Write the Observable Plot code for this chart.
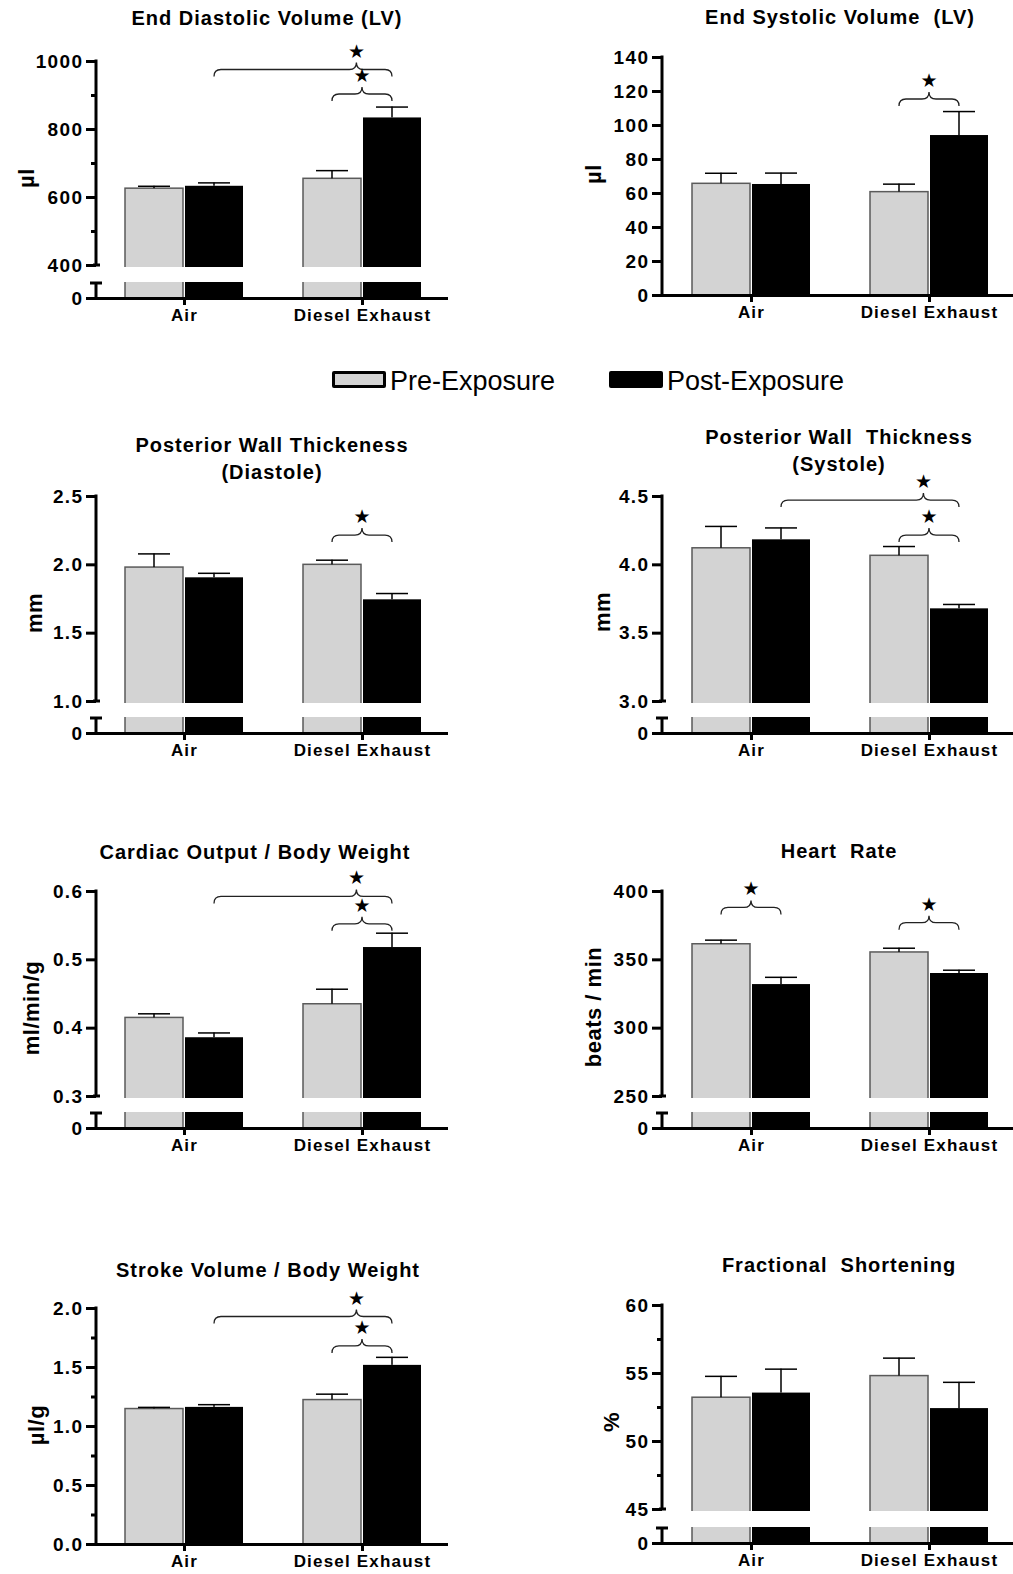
<!DOCTYPE html>
<html>
<head>
<meta charset="utf-8">
<script src="https://cdn.jsdelivr.net/npm/d3@7"></script>
<script src="https://cdn.jsdelivr.net/npm/@observablehq/plot@0.6"></script>
<style>
  html, body { margin: 0; padding: 0; background: #fff; }
  #fig { position: relative; width: 1013px; height: 1574px; overflow: hidden; background: #fff;
         font-family: "Liberation Sans", Arial, sans-serif; color: #000; }
  .panel { position: absolute; }
  .panel svg { max-width: none; overflow: visible; }
  .title { position: absolute; transform: translate(-50%, -50%); white-space: pre; font-weight: bold;
           font-size: 20px; letter-spacing: 1px; line-height: 1; text-align: center; }
  .ylab { position: absolute; transform: translate(-50%, -50%) rotate(-90deg); white-space: pre;
          font-weight: bold; font-size: 22px; letter-spacing: 0.5px; line-height: 1; }
  .leg-sw { position: absolute; box-sizing: border-box; width: 54px; height: 17px; border-radius: 2px; }
  .leg-tx { position: absolute; transform: translateY(-50%); font-size: 27px; line-height: 1; white-space: pre; }
  g[aria-label="y-axis tick label"] text { letter-spacing: 1.4px; }
  g[aria-label="x-axis tick label"] text { letter-spacing: 1.2px; }
</style>
</head>
<body>
<div id="fig"></div>
<script>
// ---------------- data ----------------
const groups = ["Air", "Diesel Exhaust"];
const phases = ["Pre-Exposure", "Post-Exposure"];
// bar order in every panel: Air/Pre, Air/Post, Diesel/Pre, Diesel/Post
const barGroup = ["Air", "Air", "Diesel Exhaust", "Diesel Exhaust"];
const barPhase = ["Pre-Exposure", "Post-Exposure", "Pre-Exposure", "Post-Exposure"];

// End Diastolic Volume (LV)
const edvTitle = ["End Diastolic Volume (LV)"];
const edvUnit = "µl";
const edvMean = [626, 633, 655, 834];
const edvSem = [7, 10, 24, 32];
const edvDomain = [0, 400, 1000];
const edvTicks = [0, 400, 600, 800, 1000];
const edvTickLabels = ["0", "400", "600", "800", "1000"];
const edvMinor = [500, 700, 900];
const edvBraces = [[1, 3, 975], [2, 3, 903]];

// End Systolic Volume (LV)
const esvTitle = ["End Systolic Volume  (LV)"];
const esvUnit = "µl";
const esvMean = [65.7, 65.3, 60.8, 94.1];
const esvSem = [6.2, 6.7, 4.7, 14.1];
const esvDomain = [0, 140];
const esvTicks = [0, 20, 40, 60, 80, 100, 120, 140];
const esvTickLabels = ["0", "20", "40", "60", "80", "100", "120", "140"];
const esvMinor = [];
const esvBraces = [[2, 3, 115.3]];

// Posterior Wall Thickeness (Diastole)
const pwdTitle = ["Posterior Wall Thickeness", "(Diastole)"];
const pwdUnit = "mm";
const pwdMean = [1.98, 1.905, 2.0, 1.744];
const pwdSem = [0.10, 0.033, 0.034, 0.046];
const pwdDomain = [0, 1.0, 2.5];
const pwdTicks = [0, 1.0, 1.5, 2.0, 2.5];
const pwdTickLabels = ["0", "1.0", "1.5", "2.0", "2.5"];
const pwdMinor = [];
const pwdBraces = [[2, 3, 2.214]];

// Posterior Wall Thickness (Systole)
const pwsTitle = ["Posterior Wall  Thickness", "(Systole)"];
const pwsUnit = "mm";
const pwsMean = [4.121, 4.183, 4.066, 3.678];
const pwsSem = [0.16, 0.087, 0.068, 0.032];
const pwsDomain = [0, 3.0, 4.5];
const pwsTicks = [0, 3.0, 3.5, 4.0, 4.5];
const pwsTickLabels = ["0", "3.0", "3.5", "4.0", "4.5"];
const pwsMinor = [];
const pwsBraces = [[1, 3, 4.47], [2, 3, 4.214]];

// Cardiac Output / Body Weight
const coTitle = ["Cardiac Output / Body Weight"];
const coUnit = "ml/min/g";
const coMean = [0.415, 0.386, 0.435, 0.518];
const coSem = [0.006, 0.007, 0.022, 0.021];
const coDomain = [0, 0.3, 0.6];
const coTicks = [0, 0.3, 0.4, 0.5, 0.6];
const coTickLabels = ["0", "0.3", "0.4", "0.5", "0.6"];
const coMinor = [];
const coBraces = [[1, 3, 0.592], [2, 3, 0.552]];

// Heart Rate
const hrTitle = ["Heart  Rate"];
const hrUnit = "beats / min";
const hrMean = [361.4, 331.9, 355.4, 340.0];
const hrSem = [3.0, 5.3, 3.1, 2.4];
const hrDomain = [0, 250, 400];
const hrTicks = [0, 250, 300, 350, 400];
const hrTickLabels = ["0", "250", "300", "350", "400"];
const hrMinor = [];
const hrBraces = [[0, 1, 388], [2, 3, 376.8]];

// Stroke Volume / Body Weight
const svTitle = ["Stroke Volume / Body Weight"];
const svUnit = "µl/g";
const svMean = [1.148, 1.162, 1.224, 1.518];
const svSem = [0.014, 0.023, 0.05, 0.068];
const svDomain = [0, 2.0];
const svTicks = [0, 0.5, 1.0, 1.5, 2.0];
const svTickLabels = ["0.0", "0.5", "1.0", "1.5", "2.0"];
const svMinor = [0.25, 0.75, 1.25, 1.75];
const svBraces = [[1, 3, 1.928], [2, 3, 1.679]];

// Fractional Shortening
const fsTitle = ["Fractional  Shortening"];
const fsUnit = "%";
const fsMean = [53.22, 53.56, 54.81, 52.42];
const fsSem = [1.57, 1.76, 1.32, 1.93];
const fsDomain = [0, 45, 60];
const fsTicks = [0, 45, 50, 55, 60];
const fsTickLabels = ["0", "45", "50", "55", "60"];
const fsMinor = [47.5, 52.5, 57.5];
const fsBraces = [];

// ---------------- layout (page pixels) ----------------
const SIDES = {
  L: {svgLeft: 0, width: 455, axisX: 96, xEnd: 448, airX: 184, deX: 362},
  R: {svgLeft: 505, width: 508, axisX: 662, xEnd: 1013, airX: 751, deX: 929}
};
const panels = [
  {title: edvTitle, unit: edvUnit, mean: edvMean, sem: edvSem, domain: edvDomain, ticks: edvTicks, labels: edvTickLabels, minor: edvMinor, braces: edvBraces,
   side: "L", yTop: 61, yLow: 265, y0: 298, titleX: 267, titleY: 18, unitX: 27, unitY: 178},
  {title: esvTitle, unit: esvUnit, mean: esvMean, sem: esvSem, domain: esvDomain, ticks: esvTicks, labels: esvTickLabels, minor: esvMinor, braces: esvBraces,
   side: "R", yTop: 57, y0: 295, titleX: 840, titleY: 17, unitX: 594, unitY: 174},
  {title: pwdTitle, unit: pwdUnit, mean: pwdMean, sem: pwdSem, domain: pwdDomain, ticks: pwdTicks, labels: pwdTickLabels, minor: pwdMinor, braces: pwdBraces,
   side: "L", yTop: 496, yLow: 701, y0: 733, titleX: 272, titleY: 445, unitX: 35, unitY: 613},
  {title: pwsTitle, unit: pwsUnit, mean: pwsMean, sem: pwsSem, domain: pwsDomain, ticks: pwsTicks, labels: pwsTickLabels, minor: pwsMinor, braces: pwsBraces,
   side: "R", yTop: 496, yLow: 701, y0: 733, titleX: 839, titleY: 437, unitX: 603, unitY: 612},
  {title: coTitle, unit: coUnit, mean: coMean, sem: coSem, domain: coDomain, ticks: coTicks, labels: coTickLabels, minor: coMinor, braces: coBraces,
   side: "L", yTop: 891, yLow: 1096, y0: 1128, titleX: 255, titleY: 852, unitX: 32, unitY: 1008},
  {title: hrTitle, unit: hrUnit, mean: hrMean, sem: hrSem, domain: hrDomain, ticks: hrTicks, labels: hrTickLabels, minor: hrMinor, braces: hrBraces,
   side: "R", yTop: 891, yLow: 1096, y0: 1128, titleX: 839, titleY: 851, unitX: 594, unitY: 1007},
  {title: svTitle, unit: svUnit, mean: svMean, sem: svSem, domain: svDomain, ticks: svTicks, labels: svTickLabels, minor: svMinor, braces: svBraces,
   side: "L", yTop: 1308, y0: 1544, titleX: 268, titleY: 1270, unitX: 37, unitY: 1425},
  {title: fsTitle, unit: fsUnit, mean: fsMean, sem: fsSem, domain: fsDomain, ticks: fsTicks, labels: fsTickLabels, minor: fsMinor, braces: fsBraces,
   side: "R", yTop: 1305, yLow: 1509, y0: 1543, titleX: 839, titleY: 1265, unitX: 612, unitY: 1422}
];
const TITLE_LINE = 27;

const PRE_FILL = "#d3d3d3", PRE_STROKE = "#5a5a5a", POST_FILL = "#000";
const fig = document.getElementById("fig");

function addDiv(cls, text, left, top) {
  const d = document.createElement("div");
  d.className = cls;
  d.textContent = text;
  d.style.left = left + "px";
  d.style.top = top + "px";
  fig.appendChild(d);
  return d;
}

function drawPanel(p) {
  const S = SIDES[p.side];
  const svgTop = p.yTop - 14;
  const height = p.y0 + 34 - svgTop;
  const marginLeft = S.axisX - S.svgLeft;
  const marginRight = S.svgLeft + S.width - S.xEnd;
  const y0 = p.y0 - svgTop, yTop = p.yTop - svgTop;
  const broken = p.domain.length === 3;
  const yLow = broken ? p.yLow - svgTop : null;
  const yRange = broken ? [y0, yLow, yTop] : [y0, yTop];
  const step = S.deX - S.airX;
  const xRange = [S.airX - step / 2 - S.svgLeft, S.deX + step / 2 - S.svgLeft];

  const rows = p.mean.map((m, i) => ({group: barGroup[i], phase: barPhase[i], mean: m, top: m + p.sem[i]}));
  const pre = rows.filter(d => d.phase === phases[0]);
  const post = rows.filter(d => d.phase === phases[1]);
  const fmt = d => p.labels[p.ticks.indexOf(d)];

  const plot = Plot.plot({
    width: S.width, height,
    marginLeft, marginRight, marginTop: yTop, marginBottom: height - y0,
    style: {fontFamily: '"Liberation Sans", Arial, sans-serif', background: "transparent", maxWidth: "none", overflow: "visible"},
    x: {type: "band", domain: groups, range: xRange, padding: 0, round: false, label: null},
    y: {type: "linear", domain: p.domain, range: yRange, label: null},
    marks: [
      Plot.barY(pre, {x: "group", y: "mean", fill: PRE_FILL, stroke: PRE_STROKE, strokeWidth: 1.5, insetLeft: 30, insetRight: 90}),
      Plot.barY(post, {x: "group", y: "mean", fill: POST_FILL, insetLeft: 90, insetRight: 30}),
      Plot.barY(pre, {x: "group", y1: "mean", y2: "top", fill: "#000", insetLeft: 58.25, insetRight: 118.25}),
      Plot.barY(post, {x: "group", y1: "mean", y2: "top", fill: "#000", insetLeft: 118.25, insetRight: 58.25}),
      Plot.tickY(pre, {x: "group", y: "top", stroke: "#000", strokeWidth: 1.5, insetLeft: 43, insetRight: 103}),
      Plot.tickY(post, {x: "group", y: "top", stroke: "#000", strokeWidth: 1.5, insetLeft: 103, insetRight: 43}),
      Plot.ruleY([0], {stroke: "#000", strokeWidth: 3}),
      Plot.axisY(p.ticks, {tickSize: 10, tickPadding: 3, strokeWidth: 3, tickFormat: fmt, fontSize: 19, fontWeight: "bold", label: null}),
      ...(p.minor.length ? [Plot.axisY(p.minor, {tickSize: 5, strokeWidth: 3, text: null, label: null})] : []),
      Plot.axisX({tickSize: 7, tickPadding: 3, strokeWidth: 3, fontSize: 17, fontWeight: "bold", label: null})
    ]
  });

  // decorations: axis line with break, braces and stars, using the plot's own scales
  const ys = plot.scale("y"), xs = plot.scale("x");
  const Y = v => ys.apply(v);
  const barCenter = i => xs.apply(barGroup[i]) + xs.bandwidth / 2 + (barPhase[i] === phases[0] ? -30 : 30);
  const svg = d3.select(plot.tagName.toLowerCase() === "svg" ? plot : plot.querySelector("svg"));
  const g = svg.append("g").attr("class", "deco");
  const ax = marginLeft;
  if (broken) {
    const gapTop = yLow + 2, gapBottom = y0 - 16, capY = y0 - 15;
    g.append("rect").attr("x", ax - 8).attr("y", gapTop).attr("width", S.width - ax + 8)
      .attr("height", gapBottom - gapTop).attr("fill", "#fff");
    g.append("line").attr("x1", ax).attr("x2", ax).attr("y1", yTop - 1.5).attr("y2", yLow)
      .attr("stroke", "#000").attr("stroke-width", 3);
    g.append("line").attr("x1", ax - 3).attr("x2", ax + 4).attr("y1", yLow).attr("y2", yLow)
      .attr("stroke", "#000").attr("stroke-width", 3);
    g.append("line").attr("x1", ax).attr("x2", ax).attr("y1", capY).attr("y2", y0)
      .attr("stroke", "#000").attr("stroke-width", 3);
    g.append("line").attr("x1", ax - 6).attr("x2", ax + 6).attr("y1", capY).attr("y2", capY)
      .attr("stroke", "#000").attr("stroke-width", 3);
  } else {
    g.append("line").attr("x1", ax).attr("x2", ax).attr("y1", yTop - 1.5).attr("y2", y0)
      .attr("stroke", "#000").attr("stroke-width", 3);
  }
  for (const [a, b, level] of p.braces) {
    const x1 = barCenter(a), x2 = barCenter(b);
    const frac = barGroup[a] === barGroup[b] ? 0.5 : 0.8;
    const xp = x1 + (x2 - x1) * frac;
    const yl = Y(level), r = 7, dd = 7;
    const path = `M${x1},${yl + dd} Q${x1},${yl} ${x1 + r},${yl} L${xp - r},${yl} Q${xp},${yl} ${xp},${yl - dd}`
      + ` Q${xp},${yl} ${xp + r},${yl} L${x2 - r},${yl} Q${x2},${yl} ${x2},${yl + dd}`;
    g.append("path").attr("d", path).attr("fill", "none").attr("stroke", "#222").attr("stroke-width", 1.3);
    g.append("text").attr("x", xp).attr("y", yl - 19).attr("text-anchor", "middle")
      .attr("dominant-baseline", "central").attr("font-size", 19).attr("font-family", "DejaVu Sans")
      .text("★");
  }

  const holder = document.createElement("div");
  holder.className = "panel";
  holder.style.left = S.svgLeft + "px";
  holder.style.top = svgTop + "px";
  holder.style.width = S.width + "px";
  holder.appendChild(plot);
  fig.appendChild(holder);

  p.title.forEach((line, k) => addDiv("title", line, p.titleX, p.titleY + k * TITLE_LINE));
  addDiv("ylab", p.unit, p.unitX, p.unitY);
}

panels.forEach(drawPanel);

// legend
const sw1 = addDiv("leg-sw", "", 332, 371);
sw1.style.background = PRE_FILL; sw1.style.border = "3px solid #000";
addDiv("leg-tx", phases[0], 390, 381);
const sw2 = addDiv("leg-sw", "", 609, 371);
sw2.style.background = POST_FILL;
addDiv("leg-tx", phases[1], 667, 381);
</script>
</body>
</html>
